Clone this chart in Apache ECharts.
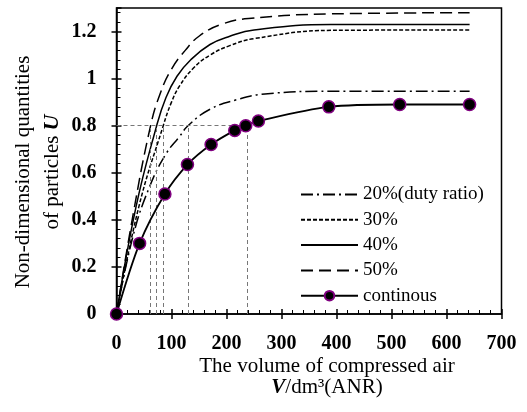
<!DOCTYPE html>
<html><head><meta charset="utf-8">
<script src="https://cdn.jsdelivr.net/npm/echarts@6/dist/echarts.min.js"></script>
<style>html,body{margin:0;padding:0;background:#fff}#c{width:527px;height:412px}</style>
</head><body><div id="c"></div>
<script>
// ---- data ----
const seriesNames = ['20%(duty ratio)', '30%', '40%', '50%', 'continous'];
const duty20 = [[0,0],[30,0.33],[60,0.54],[90,0.68],[115,0.755],[130,0.80],[170,0.87],[218,0.91],[270,0.935],[390,0.946],[642,0.946]];
const duty30 = [[0,0],[40,0.45],[85,0.80],[100,0.90],[115,0.97],[140,1.045],[170,1.10],[206,1.14],[250,1.17],[390,1.205],[642,1.207]];
const duty40 = [[0,0],[35,0.45],[73,0.80],[90,0.92],[110,1.01],[135,1.08],[170,1.145],[206,1.18],[250,1.207],[390,1.23],[642,1.23]];
const duty50 = [[0,0],[30,0.42],[62,0.80],[80,0.94],[100,1.04],[125,1.12],[150,1.18],[190,1.23],[240,1.255],[390,1.275],[642,1.28]];
const continuous = [[0,0],[42,0.30],[88,0.51],[129,0.635],[172,0.72],[215,0.78],[235,0.80],[258,0.82],[386,0.88],[515,0.89],[642,0.89]];
const refLevel = 0.8;
const crossX = [62, 73, 85, 130, 237];
const xTicks = [0, 100, 200, 300, 400, 500, 600, 700];
const yTicks = [0, 0.2, 0.4, 0.6, 0.8, 1, 1.2];

const serif = '"Liberation Serif","Times New Roman",serif';
const chart = echarts.init(document.getElementById('c'));

const markData = [[{coord:[0, refLevel]}, {coord:[Math.max(...crossX), refLevel]}]]
  .concat(crossX.map(x => [{coord:[x, 0]}, {coord:[x, refLevel]}]));

function curve(name, data, type) {
  return {
    name, type: 'line', data, symbol: 'none', smooth: 0.45,
    lineStyle: {color: '#000', width: 1.5, type}, itemStyle: {color: '#000', opacity: 0}, z: 3
  };
}

chart.setOption({
  animation: false,
  backgroundColor: '#fff',
  grid: {left: 116.5, right: 25.5, top: 8, bottom: 98, show: true, borderColor: '#000', borderWidth: 1.5,
    outerBoundsMode: 'none', containLabel: false},
  legend: {
    orient: 'vertical', left: 295, top: 180, itemWidth: 57, itemHeight: 12, itemGap: 6.3,
    data: seriesNames,
    textStyle: {fontFamily: serif, fontSize: 19, color: '#000', lineHeight: 19}
  },
  xAxis: [{
    type: 'value', min: xTicks[0], max: xTicks[xTicks.length-1], interval: 100,
    axisLine: {lineStyle: {color: '#000', width: 1.5}},
    axisTick: {length: 5, lineStyle: {color: '#000', width: 1.5}},
    splitLine: {show: false},
    axisLabel: {color: '#000', fontFamily: serif, fontWeight: 'bold', fontSize: 20, margin: 20},
    name: 'The volume of compressed air\n{v|V}/dm³(ANR)',
    nameLocation: 'middle', nameGap: 42, nameMoveOverlap: false,
    nameTextStyle: {color: '#000', fontFamily: serif, fontSize: 21, lineHeight: 21, padding: [0,0,0,36],
      rich: {v: {fontFamily: serif, fontSize: 21, fontStyle: 'italic', fontWeight: 'bold', color: '#000'}}}
  }, {
    type: 'value', position: 'bottom', min: xTicks[0], max: xTicks[xTicks.length-1], interval: 100,
    axisLine: {show: false}, axisLabel: {show: false}, splitLine: {show: false},
    axisTick: {inside: true, length: 5, lineStyle: {color: '#000', width: 1.5}},
    minorTick: {show: true, splitNumber: 5, length: 4, lineStyle: {color: '#000', width: 1}}
  }],
  yAxis: [{
    type: 'value', min: 0, max: 1.3, interval: 0.2,
    axisLine: {show: true, lineStyle: {color: '#000', width: 1.5}},
    axisTick: {show: true, length: 5, lineStyle: {color: '#000', width: 1.5}},
    splitLine: {show: false},
    axisLabel: {color: '#000', fontFamily: serif, fontWeight: 'bold', fontSize: 20, margin: 20, showMaxLabel: false,
      formatter: v => (yTicks.indexOf(Math.round(v*10)/10) >= 0 ? String(Math.round(v*10)/10) : '')},
    name: 'Non-dimensional quantities\nof particles {u|U}',
    nameLocation: 'middle', nameGap: 50, nameMoveOverlap: false,
    nameTextStyle: {color: '#000', fontFamily: serif, fontSize: 21, lineHeight: 29, padding: [0,22,0,0],
      rich: {u: {fontFamily: serif, fontSize: 22, fontStyle: 'italic', fontWeight: 'bold', color: '#000', lineHeight: 29}}}
  }, {
    type: 'value', position: 'left', min: 0, max: 1.3, interval: 0.2,
    axisLine: {show: false}, axisLabel: {show: false}, splitLine: {show: false},
    axisTick: {show: true, inside: true, length: 5, lineStyle: {color: '#000', width: 1.5}},
    minorTick: {show: true, splitNumber: 5, length: 4, lineStyle: {color: '#000', width: 1}}
  }],
  series: [
    {
      name: 'ref', type: 'line', data: [], silent: true,
      markLine: {silent: true, symbol: 'none', label: {show: false}, animation: false,
        lineStyle: {color: '#777', width: 1, type: [4, 3]}, data: markData}
    },
    curve(seriesNames[0], duty20, [12, 4, 2, 4]),
    curve(seriesNames[1], duty30, [4, 2]),
    curve(seriesNames[2], duty40, 'solid'),
    curve(seriesNames[3], duty50, [12, 6]),
    {
      name: seriesNames[4], type: 'line', data: continuous, smooth: 0.3,
      symbol: 'circle', symbolSize: 12, z: 5,
      lineStyle: {color: '#000', width: 1.8},
      itemStyle: {color: '#000', borderColor: '#800080', borderWidth: 1.5}
    }
  ]
});
</script></body></html>
